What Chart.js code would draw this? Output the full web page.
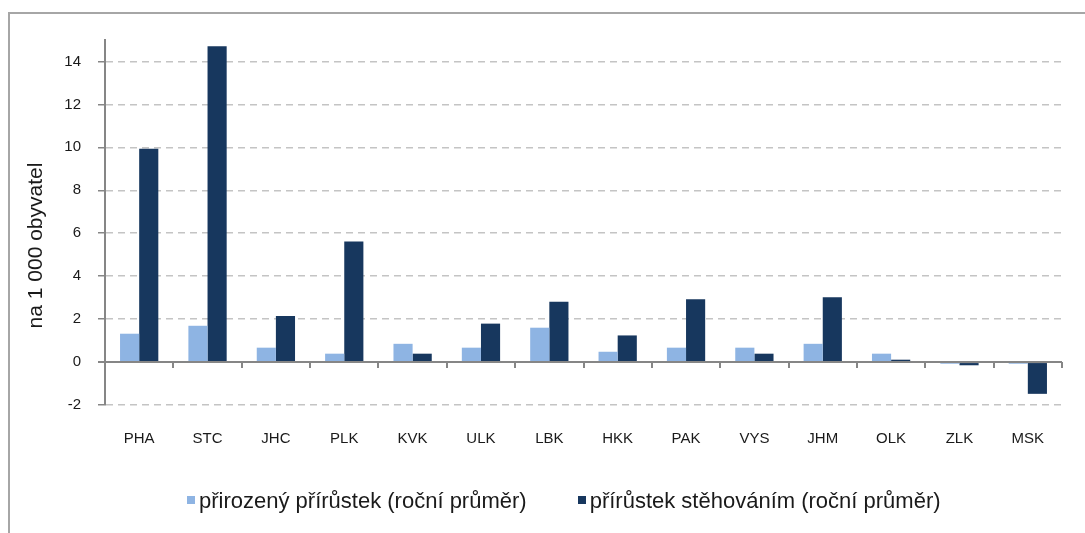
<!DOCTYPE html>
<html>
<head>
<meta charset="utf-8">
<script src="https://cdn.jsdelivr.net/npm/chart.js@4"></script>
<style>
  html, body { margin: 0; padding: 0; background: #fff; }
  #wrap { position: relative; width: 1085px; height: 533px; overflow: hidden; }
  #frame { position: absolute; left: 8px; top: 12px; width: 1200px; height: 600px;
           border-left: 2px solid #a6a6a6; border-top: 2px solid #a6a6a6; pointer-events: none; }
  canvas { position: absolute; left: 0; top: 0; }
  #legend { position: absolute; left: 187px; top: 488px; display: flex; align-items: center;
            font-family: 'Liberation Sans', Arial, sans-serif; font-size: 22px; color: #1a1a1a;
            white-space: nowrap; line-height: 26px; }
  #legend .item { display: flex; align-items: center; margin-right: 51px; }
  #legend .box { width: 8px; height: 8px; margin-right: 4px; margin-top: -2px; }
</style>
</head>
<body>
<div id="wrap">
  <canvas id="chart" width="1085" height="533"></canvas>
  <div id="legend"></div>
  <div id="frame"></div>
</div>
<script>
const regions = ['PHA', 'STC', 'JHC', 'PLK', 'KVK', 'ULK', 'LBK', 'HKK', 'PAK', 'VYS', 'JHM', 'OLK', 'ZLK', 'MSK'];
const naturalGrowth = [1.32, 1.69, 0.67, 0.39, 0.85, 0.67, 1.60, 0.48, 0.67, 0.67, 0.85, 0.39, -0.08, -0.08];
const migrationGrowth = [9.93, 14.71, 2.15, 5.61, 0.39, 1.79, 2.81, 1.24, 2.92, 0.39, 3.02, 0.11, -0.15, -1.48];
const yTicks = [-2, 0, 2, 4, 6, 8, 10, 12, 14];
const yTitle = 'na 1 000 obyvatel';

const axisGray = '#868686';
const textColor = '#1a1a1a';
const family = 'Liberation Sans, Arial, sans-serif';
const font = { family: family, size: 15 };

// zero line with small tick marks between the regions
const zeroTicks = {
    id: 'zeroTicks',
    afterDatasetsDraw(chart) {
        const x = chart.scales.x;
        const y0 = chart.scales.y.getPixelForValue(0);
        const ctx = chart.ctx;
        const step = x.width / regions.length;
        ctx.save();
        ctx.strokeStyle = axisGray;
        ctx.lineWidth = 2;
        ctx.beginPath();
        ctx.moveTo(x.left, y0);
        ctx.lineTo(x.right, y0);
        for (let i = 0; i <= regions.length; i++) {
            const px = Math.round(x.left + i * step);
            ctx.moveTo(px, y0);
            ctx.lineTo(px, y0 + 6);
        }
        ctx.stroke();
        ctx.restore();
    }
};

// y axis title, sits a bit lower than the middle of the plot
const yAxisTitle = {
    id: 'yAxisTitle',
    afterDraw(chart) {
        const area = chart.chartArea;
        const ctx = chart.ctx;
        ctx.save();
        ctx.translate(36, (area.top + area.bottom) / 2 + 23);
        ctx.rotate(-Math.PI / 2);
        ctx.font = '21px ' + family;
        ctx.fillStyle = textColor;
        ctx.textAlign = 'center';
        ctx.textBaseline = 'middle';
        ctx.fillText(yTitle, 0, 0);
        ctx.restore();
    }
};

const chart = new Chart(document.getElementById('chart'), {
    type: 'bar',
    data: {
        labels: regions,
        datasets: [{
            label: 'přirozený přírůstek (roční průměr)',
            data: naturalGrowth,
            backgroundColor: '#8EB4E3'
        }, {
            label: 'přírůstek stěhováním (roční průměr)',
            data: migrationGrowth,
            backgroundColor: '#17375E'
        }]
    },
    options: {
        responsive: false,
        animation: false,
        layout: { padding: { left: 10, right: 23, top: 40, bottom: 68 } },
        datasets: { bar: { categoryPercentage: 0.56, barPercentage: 1 } },
        plugins: {
            tooltip: { enabled: false },
            legend: { display: false }
        },
        scales: {
            x: {
                grid: { display: false, drawTicks: false },
                border: { display: false },
                ticks: { color: textColor, font: font, padding: 25 },
                afterFit(scale) { scale.height = 60; }
            },
            y: {
                min: -2,
                max: 15,
                afterBuildTicks(scale) {
                    scale.ticks = yTicks.map(v => ({ value: v }));
                },
                afterFit(scale) { scale.width = 95; },
                grid: {
                    color: ctx => ctx.tick && ctx.tick.value === 0 ? axisGray : '#c4c4c4',
                    lineWidth: ctx => ctx.tick && ctx.tick.value === 0 ? 2 : 1.5,
                    tickColor: axisGray,
                    tickLength: 7
                },
                border: {
                    color: axisGray,
                    width: 2,
                    dash: ctx => ctx.tick && ctx.tick.value === 0 ? [] : [7, 5]
                },
                ticks: { color: textColor, font: font, padding: 17 }
            }
        }
    },
    plugins: [zeroTicks, yAxisTitle]
});

// html legend built from the datasets
const legendEl = document.getElementById('legend');
chart.data.datasets.forEach(ds => {
    const item = document.createElement('div');
    item.className = 'item';
    const box = document.createElement('span');
    box.className = 'box';
    box.style.background = ds.backgroundColor;
    const label = document.createElement('span');
    label.textContent = ds.label;
    item.appendChild(box);
    item.appendChild(label);
    legendEl.appendChild(item);
});
</script>
</body>
</html>
